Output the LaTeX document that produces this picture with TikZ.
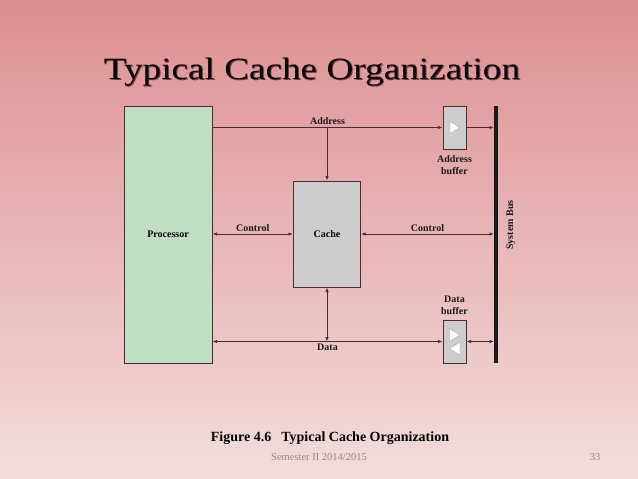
\documentclass[tikz,border=0pt]{standalone}
\usepackage{fontspec}
\setmainfont{Liberation Serif}
\usetikzlibrary{calc, arrows.meta, positioning}

\definecolor{slidetop}{RGB}{221,143,145}
\definecolor{slidebot}{RGB}{243,221,221}
\definecolor{procgreen}{RGB}{192,223,194}
\definecolor{cachegray}{RGB}{205,205,205}
\definecolor{wirecol}{RGB}{68,48,48}
\definecolor{footgray}{RGB}{150,135,135}

\tikzset{
  box/.style={draw=wirecol, line width=1pt, inner sep=0pt, font=\bfseries\fontsize{10}{11}\selectfont},
  bufbox/.style={box, fill=cachegray, minimum width=23pt, minimum height=43pt},
  wire/.style={draw=wirecol, line width=0.9pt},
  lbl/.style={font=\bfseries\fontsize{10}{10.5}\selectfont, text=black!90, align=center, inner sep=2pt},
  tri/.style={fill=white, draw=gray!70, line width=0.4pt}
}

\begin{document}
\begin{tikzpicture}[x=1pt, y=-1pt, >={Latex[length=4.5pt,width=3.5pt]}]
  % --- background ---
  \shade[top color=slidetop, bottom color=slidebot] (0,0) rectangle (638,479);
  \useasboundingbox (0,0) rectangle (638,479);

  % --- title ---
  \node[text=black!60!red!40!black, opacity=0.6, xscale=1.2] at (313,73.5) {\fontsize{31}{33}\selectfont Typical Cache Organization};
  \node[xscale=1.2] (title) at (312,72) {\fontsize{31}{33}\selectfont Typical Cache Organization};

  % --- blocks ---
  \node[box, fill=procgreen, minimum width=88pt, minimum height=257pt] (proc) at (168,234.5) {Processor};
  \node[box, fill=cachegray, minimum width=67pt, minimum height=106pt] (cache) at (327,234) {Cache};
  \node[bufbox] (abuf) at (454.5,127.5) {};
  \node[bufbox] (dbuf) at (454.5,341.5) {};

  % --- system bus ---
  \coordinate (bustop) at (496,106);
  \coordinate (busbot) at (496,363);
  \draw[black!90, line width=4pt] (bustop) -- (busbot);
  \node[lbl, rotate=90] (buslbl) at (511,225) {System Bus};

  % --- buffer symbols ---
  \draw[tri] ($(abuf)+(-4.5,-6)$) -- ++(10,6) -- ++(-10,6) -- cycle;
  \draw[tri] ($(dbuf)+(-5,-13)$) -- ++(10.5,6.5) -- ++(-10.5,6.5) -- cycle;
  \draw[tri] ($(dbuf)+(5.5,0.5)$) -- ++(-10.5,6.5) -- ++(10.5,6.5) -- cycle;
  \node[lbl, below=4pt of abuf] (ablbl) {Address\\[1.5pt]buffer};
  \node[lbl, above=3pt of dbuf] (dblbl) {Data\\[1.5pt]buffer};

  % --- address path ---
  \draw[wire, ->] (proc.east |- abuf.west) -- (abuf.west)
    node[lbl, midway, above] {Address};
  \draw[wire, ->] (abuf.east) -- ($(abuf.east -| bustop)+(-2,0)$);
  \draw[wire, ->] (cache.north |- abuf.west) -- (cache.north);

  % --- control ---
  \draw[wire, <->] (proc.east |- cache.west) -- (cache.west)
    node[lbl, midway, above] {Control};
  \draw[wire, <->] (cache.east) -- ($(cache.east -| bustop)+(-2,0)$)
    node[lbl, midway, above] {Control};

  % --- data path ---
  \draw[wire, <->] (proc.east |- dbuf.west) -- (dbuf.west)
    node[lbl, midway, below] {Data};
  \draw[wire, <->] (dbuf.east) -- ($(dbuf.east -| bustop)+(-2,0)$);
  \draw[wire, <->] (cache.south) -- (cache.south |- dbuf.west);

  % --- caption and footer ---
  \node[font=\bfseries\fontsize{14}{16}\selectfont] (caption) at (330,438) {Figure 4.6\hspace{10pt}Typical Cache Organization};
  \node[text=footgray, font=\fontsize{10.5}{12}\selectfont] (footer) at (319,457) {Semester II 2014/2015};
  \node[text=footgray, font=\fontsize{10.5}{12}\selectfont] (pageno) at (595,457) {33};
\end{tikzpicture}
\end{document}
